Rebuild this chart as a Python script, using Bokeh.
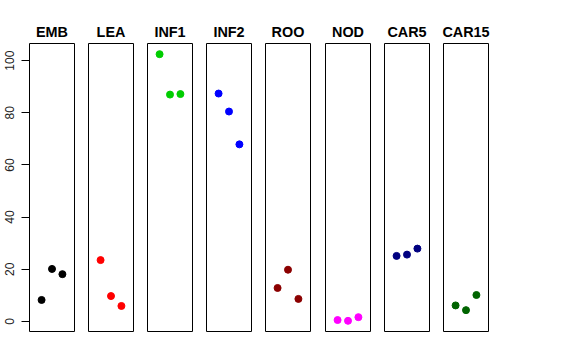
from bokeh.plotting import figure
from bokeh.layouts import row
from bokeh.models import Range1d, FixedTicker, ColumnDataSource
from bokeh.embed import file_html
from bokeh.resources import INLINE

# ---- data ----
tissues = ["EMB", "LEA", "INF1", "INF2", "ROO", "NOD", "CAR5", "CAR15"]
replicate = [1, 2, 3]
emb = [8.2, 20.1, 18.1]
lea = [23.5, 9.7, 5.9]
inf1 = [102.5, 87.0, 87.2]
inf2 = [87.4, 80.5, 67.9]
roo = [12.8, 19.8, 8.6]
nod = [0.5, 0.2, 1.6]
car5 = [25.1, 25.6, 27.9]
car15 = [6.1, 4.3, 10.1]
series = [emb, lea, inf1, inf2, roo, nod, car5, car15]
colors = ["#000000", "#FF0000", "#00CD00", "#0000FF", "#8B0000", "#FF00FF", "#000080", "#006400"]
y_ticks = [0, 20, 40, 60, 80, 100]

FONT = "Liberation Sans"
figs = []
for i, (name, vals, col) in enumerate(zip(tissues, series, colors)):
    left = 29 if i == 0 else 7
    right = 8 if i == 4 else 7
    p = figure(frame_width=45, frame_height=288,
               min_border_left=left, min_border_right=right,
               min_border_top=43, min_border_bottom=10,
               x_range=Range1d(-0.16, 4.16), y_range=Range1d(-3.9, 106.6),
               output_backend="svg", toolbar_location=None,
               x_axis_location=None, y_axis_location=("left" if i == 0 else None),
               title=name)
    p.title.align = "center"
    p.title.text_font = FONT
    p.title.text_font_size = "14.4px"
    p.title.text_font_style = "bold"
    p.title.text_color = "#000000"
    p.title.standoff = 7
    p.grid.visible = False
    p.outline_line_color = "#000000"
    p.outline_line_width = 1
    p.outline_line_alpha = 1.0
    p.background_fill_color = "white"
    p.border_fill_color = "white"
    if i == 0:
        ax = p.yaxis[0]
        ax.ticker = FixedTicker(ticks=y_ticks)
        ax.bounds = (0, 100)
        ax.major_label_orientation = "vertical"
        ax.major_label_text_font = FONT
        ax.major_label_text_font_size = "12px"
        ax.major_label_text_color = "#222222"
        ax.major_tick_out = 8
        ax.major_tick_in = 0
        ax.minor_tick_out = 0
        ax.minor_tick_in = 0
        ax.major_label_standoff = 7
        ax.axis_line_color = "#000000"
        ax.major_tick_line_color = "#000000"
    src = ColumnDataSource(dict(x=replicate, y=vals))
    p.scatter("x", "y", source=src, size=7, fill_color=col, line_color=col)
    figs.append(p)

layout = row(*figs, spacing=0)
open("out.html", "w").write(file_html(layout, INLINE))
